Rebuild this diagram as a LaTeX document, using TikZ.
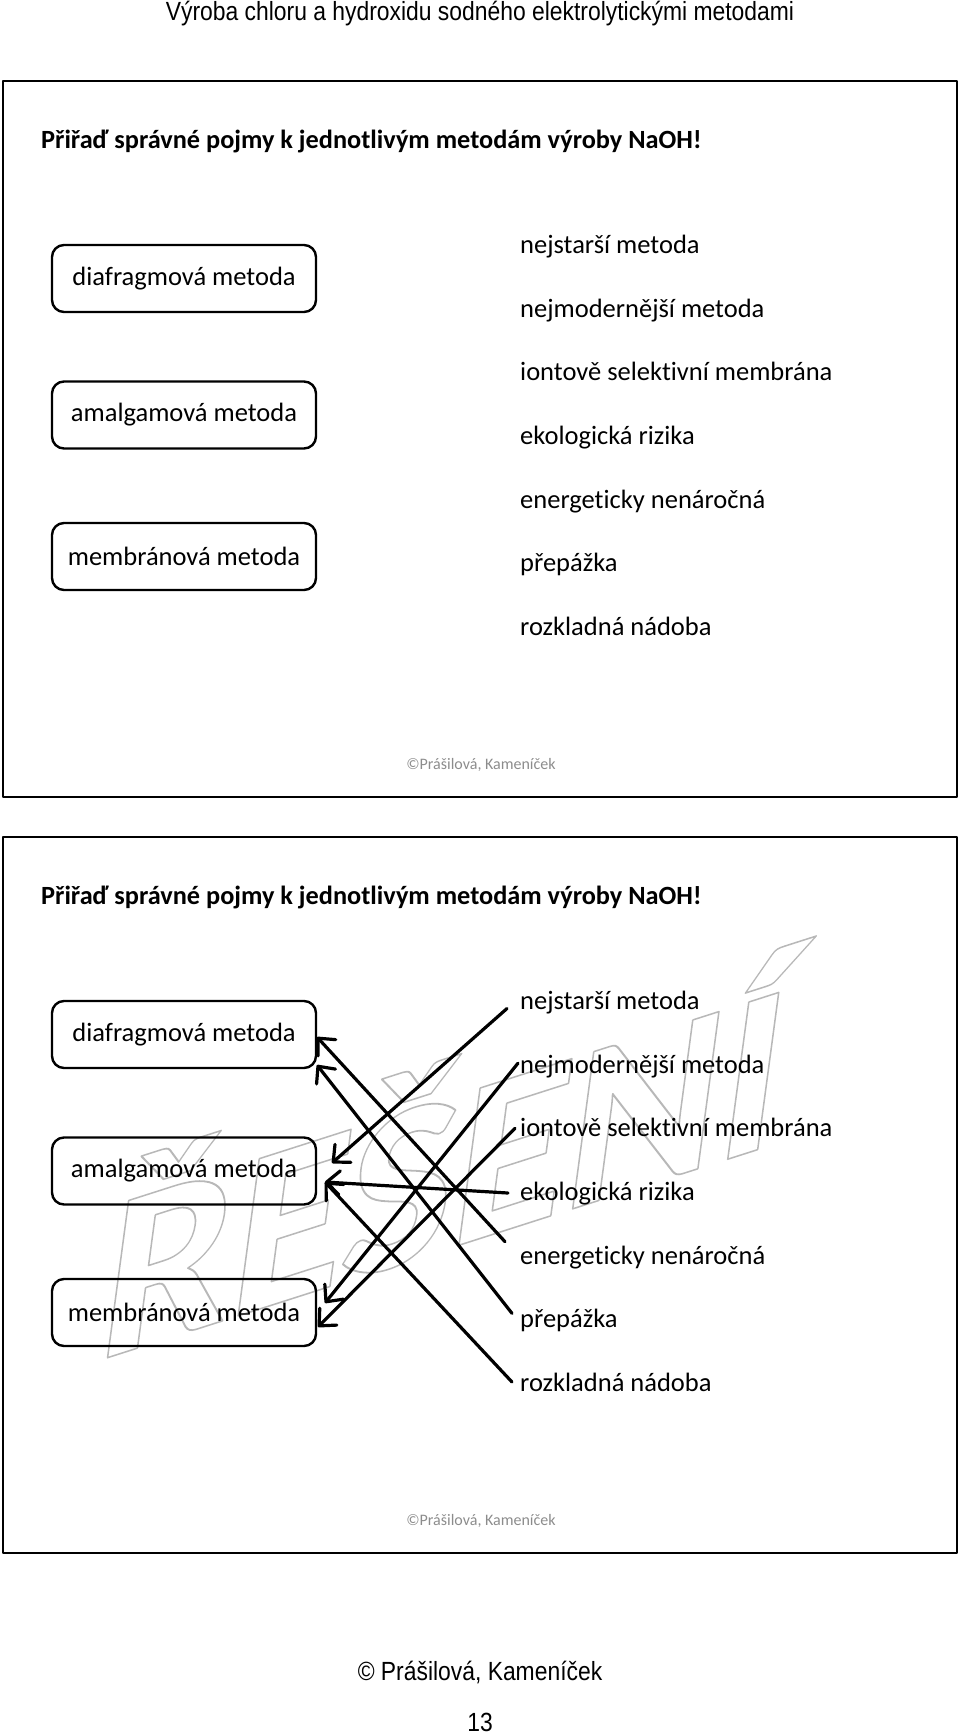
\documentclass[tikz,border=0pt]{standalone}
\usepackage{fontspec}
\setmainfont{Carlito}[Ligatures=NoCommon]
\newfontfamily\headfont[FakeStretch=0.87]{Liberation Sans}
\usetikzlibrary{arrows.meta}
\definecolor{wmgray}{rgb}{0.72,0.72,0.72}
\definecolor{cgray}{rgb}{0.55,0.55,0.55}
\newcommand{\outlined}[1]{\special{pdf:literal direct 1 Tr 1.6 w}#1\special{pdf:literal direct 0 Tr}}
\tikzset{
  method/.style={draw,line width=2.4pt,rounded corners=12pt,outer sep=0pt,
    minimum width=264pt,minimum height=67pt,inner sep=0pt,
    font=\fontsize{26.5}{30}\selectfont},
  term/.style={anchor=base west,inner sep=0pt,font=\fontsize{26.5}{30}\selectfont},
  match/.style={->,line width=3.2pt},
}

\begin{document}
\begin{tikzpicture}[x=1pt,y=-1pt,line cap=round,line join=round,
    >={Straight Barb[length=13pt,width=24pt,round]}]
\useasboundingbox (0,0) rectangle (960,1735);
% watermark under the second slide
\begin{scope}[shift={(94,1362)},yslant=0.32,xslant=0.14]
  \node[anchor=base west,inner sep=0pt,transform shape,text=wmgray,
    font=\fontsize{232}{232}\selectfont\bfseries] (wm) at (0,0) {\outlined{ŘEŠENÍ}};
\end{scope}
\node[font=\headfont\fontsize{26.3}{30}\selectfont] (head) at (480,14)
  {Výroba chloru a hydroxidu sodného elektrolytickými metodami};
% two slides, the second one with the answers
\foreach \p/\off in {a/0,b/756}{
  \begin{scope}[shift={(0,\off)}]
    \draw[line width=2pt] (3,81) rectangle (957,797);
    \node[anchor=base west,inner sep=0pt,font=\fontsize{26.3}{30}\selectfont\bfseries] (title\p)
      at (41,148) {Přiřaď správné pojmy k jednotlivým metodám výroby NaOH!};
    \node[method] (diaf\p) at (184,278.5) {diafragmová metoda};
    \node[method] (amal\p) at (184,415) {amalgamová metoda};
    \node[method] (memb\p) at (184,556.5) {membránová metoda};
    \foreach \t [count=\i] in {nejstarší metoda,nejmodernější metoda,iontově selektivní membrána,
        ekologická rizika,energeticky nenáročná,přepážka,rozkladná nádoba}
      \node[term] (t\i\p) at (520,{253.5+63.67*(\i-1)}) {\t};
    \node[text=cgray,font=\fontsize{16}{18}\selectfont] (copy\p) at (481,765) {©Prášilová, Kameníček};
  \end{scope}
}
% answers
\draw[match] ([shift={(-13,-1)}]t1b.base west) -- ([shift={(16,-8)}]amalb.east);
\draw[match] ([shift={(-2,-10)}]t2b.base west) -- ([shift={(9,-9.5)}]membb.east);
\draw[match] ([shift={(-5,-8.5)}]t3b.base west) -- ([shift={(2,14.5)}]membb.east);
\draw[match] ([shift={(-12,-7.5)}]t4b.base west) -- ([shift={(9,11)}]amalb.east);
\draw[match] ([shift={(-15,-22.5)}]t5b.base west) -- ([shift={(1,2.5)}]diafb.east);
\draw[match] ([shift={(-8,-14.5)}]t6b.base west) -- ([shift={(1,30.5)}]diafb.east);
\draw[match] ([shift={(-8,-9.5)}]t7b.base west) -- ([shift={(9,11)}]amalb.east);
\node[font=\headfont\fontsize{26.3}{30}\selectfont] (foot) at (480,1672) {© Prášilová, Kameníček};
\node[font=\headfont\fontsize{26.3}{30}\selectfont] (page) at (480,1722) {13};
\end{tikzpicture}
\end{document}
